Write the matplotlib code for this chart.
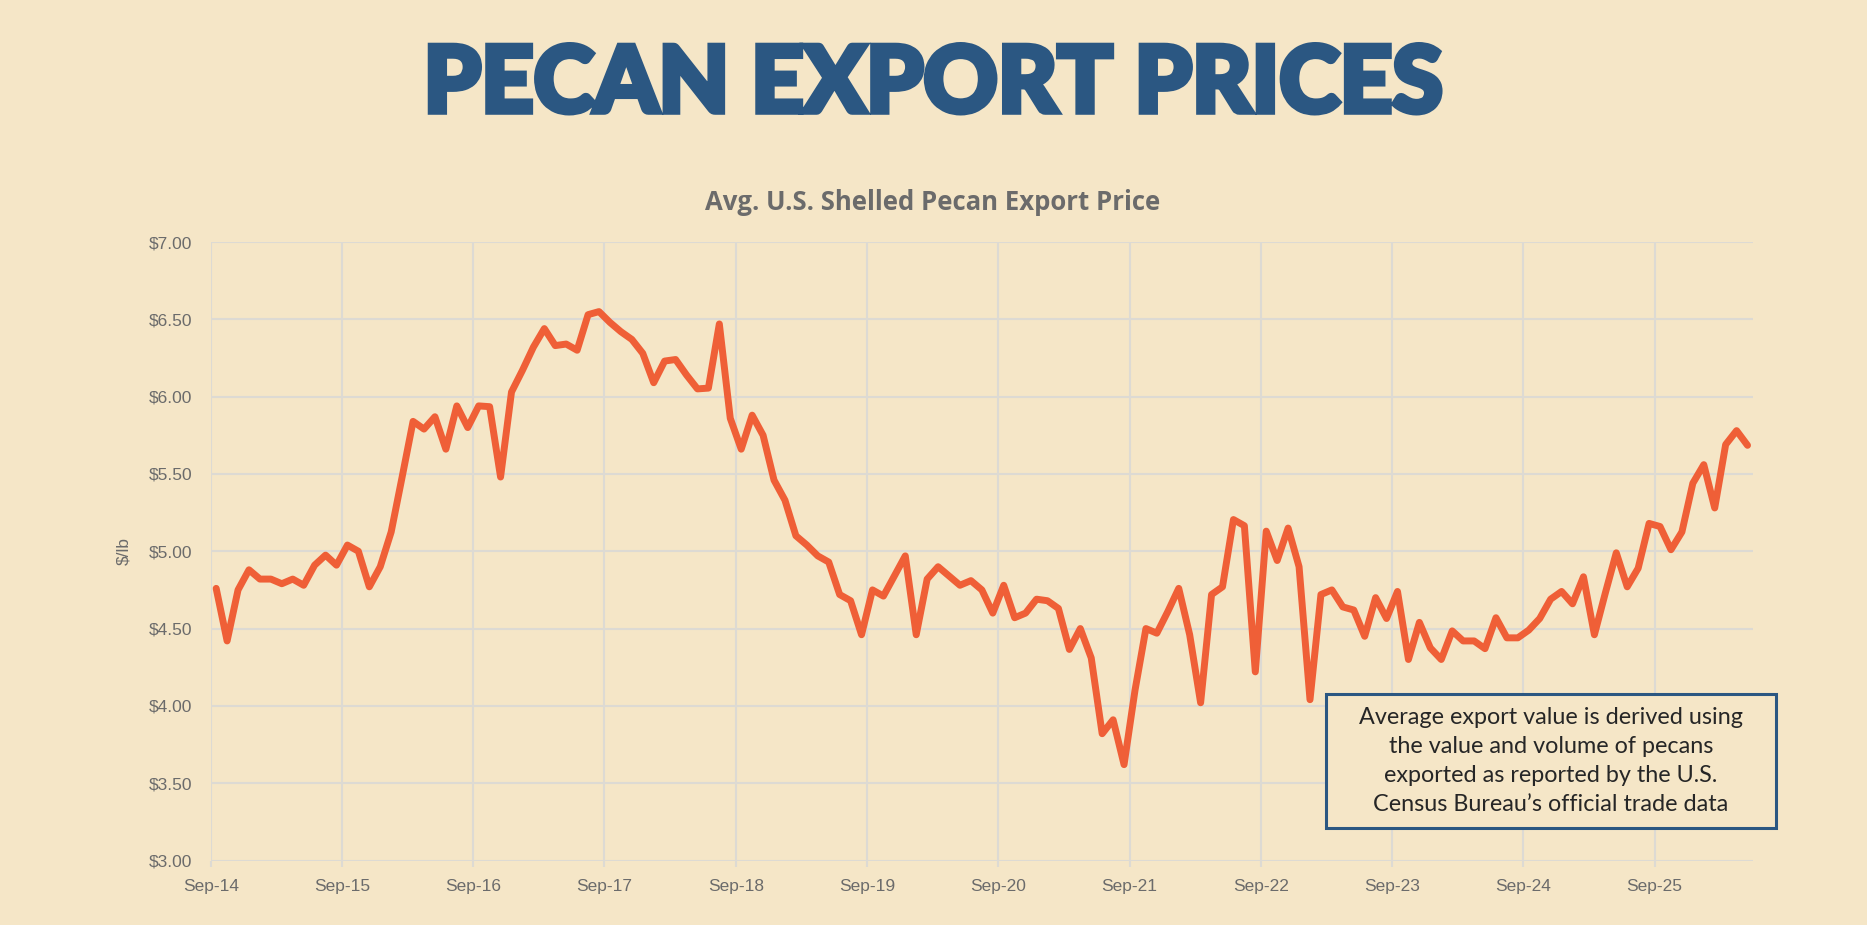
import matplotlib
matplotlib.use("Agg")
import matplotlib.pyplot as plt
import matplotlib.patheffects as pe
from matplotlib.patches import Rectangle
import numpy as np

# monthly avg export price, Sep-14 .. May-26 ($/lb)
prices = [
    4.76, 4.42, 4.75, 4.88,
    4.82, 4.82, 4.79, 4.82, 4.78, 4.91, 4.975, 4.91, 5.04, 5.00, 4.77, 4.90,
    5.125, 5.48, 5.84, 5.79, 5.87, 5.66, 5.94, 5.80, 5.94, 5.935, 5.48, 6.03,
    6.17, 6.32, 6.44, 6.33, 6.34, 6.30, 6.53, 6.55, 6.48, 6.42, 6.37, 6.28,
    6.09, 6.23, 6.24, 6.14, 6.05, 6.055, 6.47, 5.86, 5.66, 5.88, 5.75, 5.46,
    5.33, 5.10, 5.04, 4.97, 4.93, 4.72, 4.68, 4.46, 4.75, 4.71, 4.84, 4.97,
    4.46, 4.82, 4.90, 4.84, 4.78, 4.81, 4.75, 4.60, 4.78, 4.57, 4.60, 4.69,
    4.68, 4.63, 4.365, 4.50, 4.31, 3.82, 3.91, 3.62, 4.10, 4.50, 4.47, 4.61,
    4.76, 4.46, 4.02, 4.72, 4.77, 5.205, 5.165, 4.22, 5.13, 4.94, 5.15, 4.90,
    4.04, 4.72, 4.75, 4.64, 4.62, 4.45, 4.70, 4.565, 4.74, 4.30, 4.54, 4.375,
    4.30, 4.485, 4.42, 4.42, 4.37, 4.57, 4.44, 4.44, 4.49, 4.565, 4.69, 4.74,
    4.66, 4.835, 4.46, 4.73, 4.99, 4.77, 4.89, 5.18, 5.16, 5.01, 5.125, 5.44,
    5.56, 5.28, 5.69, 5.78, 5.685,
]
year_labels = ["Sep-14", "Sep-15", "Sep-16", "Sep-17", "Sep-18", "Sep-19",
               "Sep-20", "Sep-21", "Sep-22", "Sep-23", "Sep-24", "Sep-25"]
y_ticks = [3.0, 3.5, 4.0, 4.5, 5.0, 5.5, 6.0, 6.5, 7.0]
note = ("Average export value is derived using\n"
        "the value and volume of pecans\n"
        "exported as reported by the U.S.\n"
        "Census Bureau\u2019s official trade data")

bg = "#f5e6c7"
navy = "#2b5782"
gray = "#6b6b6b"
grid_c = "#dddad3"
line_c = "#ef5f37"

W, H = 1867, 925
fig = plt.figure(figsize=(W / 100, H / 100), dpi=100, facecolor=bg)
ax = fig.add_axes([210.7 / W, 1 - 860.5 / H, (1753 - 210.7) / W, (860.5 - 242) / H])
ax.set_facecolor(bg)

x = np.arange(len(prices)) + 0.5
ax.plot(x, prices, color=line_c, lw=5, solid_joinstyle="round",
        solid_capstyle="round", zorder=3)

ax.set_xlim(0, 141)
ax.set_ylim(3, 7)
ax.set_xticks(np.arange(len(year_labels)) * 12)
ax.set_xticklabels(year_labels)
ax.set_yticks(y_ticks)
ax.set_yticklabels(["${:.2f}".format(v) for v in y_ticks])
ax.grid(True, color=grid_c, lw=1.5, zorder=0)
for s in ax.spines.values():
    s.set_visible(False)
ax.tick_params(axis="x", length=4, width=1.5, color=grid_c, pad=9,
               labelsize=12.5, labelcolor=gray)
ax.tick_params(axis="y", length=0, pad=13, labelsize=12.5, labelcolor=gray)
for lab in ax.get_xticklabels() + ax.get_yticklabels():
    lab.set_family("Liberation Sans")
ax.set_ylabel("$/lb", color=gray, fontsize=12.5, family="Liberation Sans",
              labelpad=10)
ax.yaxis.set_label_coords((131 - 210.7) / (1753 - 210.7), (860.5 - 551) / (860.5 - 242))

fig.text(933 / W, 1 - 86 / H, "PECAN EXPORT PRICES", ha="center", va="center",
         fontsize=66, fontweight="black", family="Lato", color=navy,
         path_effects=[pe.withStroke(linewidth=4, foreground=navy,
                                     joinstyle="miter")])
fig.text(933 / W, 1 - 202 / H, "Avg. U.S. Shelled Pecan Export Price",
         ha="center", va="center", fontsize=18.5, fontweight="bold",
         family="Open Sans", color=gray)

fig.patches.append(Rectangle((1326 / W, 1 - 828 / H), 450 / W, 134 / H,
                             transform=fig.transFigure, facecolor=bg,
                             edgecolor=navy, lw=2.2, zorder=5))
fig.text(1551 / W, 1 - 761 / H, note, ha="center", va="center",
         fontsize=16.8, family="Lato", color="#262626", linespacing=1.46,
         zorder=6)

fig.savefig("out.png", dpi=100, facecolor=bg)
